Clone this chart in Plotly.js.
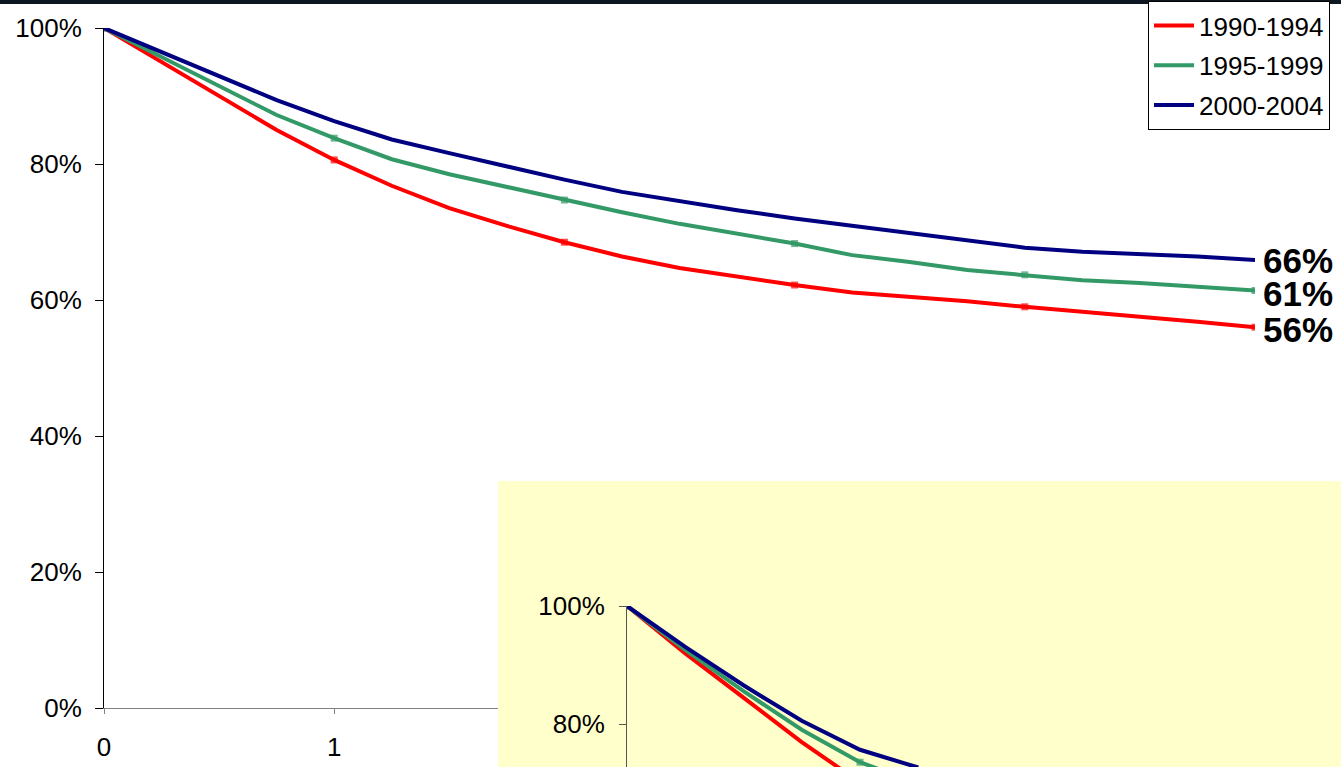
<!DOCTYPE html>
<html>
<head>
<meta charset="utf-8">
<script src="https://cdn.plot.ly/plotly-3.0.1.min.js"></script>
<style>
  html, body { margin: 0; padding: 0; background: #ffffff; }
  #chart { width: 1341px; height: 767px; }
</style>
</head>
<body>
<div id="chart"></div>
<script>
// ---- Data ----
const seriesNames = ['1990-1994', '1995-1999', '2000-2004'];
const years = [0, 0.25, 0.5, 0.75, 1, 1.25, 1.5, 1.75, 2, 2.25, 2.5, 2.75, 3, 3.25, 3.5, 3.75, 4, 4.25, 4.5, 4.75, 5];
const survival1990 = [100, 95.0, 90.0, 85.0, 80.6, 76.8, 73.5, 70.9, 68.5, 66.4, 64.7, 63.4, 62.2, 61.1, 60.5, 59.8, 59.0, 58.3, 57.5, 56.8, 56.0];
const survival1995 = [100, 95.7, 91.5, 87.2, 83.8, 80.7, 78.5, 76.6, 74.7, 72.9, 71.2, 69.7, 68.3, 66.6, 65.6, 64.4, 63.7, 62.9, 62.5, 62.0, 61.4];
const survival2000 = [100, 96.5, 93.0, 89.4, 86.3, 83.6, 81.6, 79.6, 77.7, 75.9, 74.5, 73.2, 72.0, 70.9, 69.8, 68.7, 67.7, 67.1, 66.8, 66.4, 65.9];
const endLabels = ['56%', '61%', '66%'];
const yTickVals = [0, 20, 40, 60, 80, 100];
// only the x tick labels not hidden by the yellow panel
const xTickVals = [0, 1];

// inset chart (partly visible)
const insetYears = [0, 0.25, 0.5, 0.75, 1, 1.25];
const inset1990 = [100, 92.0, 84.5, 77.0, 70.2, 65.0];
const inset1995 = [100, 92.6, 85.6, 79.1, 73.6, 70.0];
const inset2000 = [100, 93.1, 86.6, 80.6, 75.7, 72.7];
const insetTickVals = [80, 100];

// ---- Styling ----
const colors = ['#FF0000', '#339966', '#000080'];
const FONT = 'Liberation Sans, Arial, sans-serif';
const W = 1341, H = 767;

function markerSizes(xs) { return xs.map(v => Number.isInteger(v) ? 7 : 0); }
function pct(v) { return v + '%'; }

const mainSeries = [survival1990, survival1995, survival2000];
const insetSeries = [inset1990, inset1995, inset2000];

const traces = [];
mainSeries.forEach((ys, i) => {
  traces.push({
    type: 'scatter',
    x: years, y: ys,
    name: seriesNames[i],
    legendgroup: 'g' + i,
    mode: i < 2 ? 'lines+markers' : 'lines',
    line: { color: colors[i], width: 4 },
    marker: { symbol: 'square', size: markerSizes(years), color: colors[i], line: { width: 0 } },
    xaxis: 'x', yaxis: 'y',
    hoverinfo: 'skip'
  });
});
// placeholder trace for the yellow panel subplot
traces.push({ type: 'scatter', x: [], y: [], xaxis: 'x2', yaxis: 'y2', showlegend: false, hoverinfo: 'skip' });
insetSeries.forEach((ys, i) => {
  traces.push({
    type: 'scatter',
    x: insetYears, y: ys,
    name: seriesNames[i],
    showlegend: false,
    mode: i < 2 ? 'lines+markers' : 'lines',
    line: { color: colors[i], width: 4 },
    marker: { symbol: 'square', size: markerSizes(insetYears), color: colors[i], line: { width: 0 } },
    xaxis: 'x3', yaxis: 'y3',
    hoverinfo: 'skip'
  });
});

const labelShifts = [-2, -3, -1];
const annotations = mainSeries.map((ys, i) => ({
  x: years[years.length - 1], y: ys[ys.length - 1],
  xref: 'x', yref: 'y',
  text: endLabels[i],
  showarrow: false,
  xanchor: 'left', yanchor: 'middle',
  xshift: 6, yshift: labelShifts[i],
  font: { family: FONT, size: 35, color: '#000000', weight: 'bold' }
}));

const layout = {
  width: W, height: H,
  margin: { l: 0, r: 0, t: 0, b: 0, autoexpand: false },
  paper_bgcolor: '#ffffff',
  plot_bgcolor: 'rgba(0,0,0,0)',
  font: { family: FONT, size: 26, color: '#000000' },
  showlegend: true,
  legend: {
    x: 1148 / W, y: 1 - 1 / H, xanchor: 'left', yanchor: 'top',
    bgcolor: '#ffffff', bordercolor: '#000000', borderwidth: 1,
    font: { family: FONT, size: 26, color: '#000000' },
    tracegroupgap: 3,
    itemwidth: 40
  },
  xaxis: {
    domain: [104 / W, 1255 / W], range: [0, 5],
    tickvals: xTickVals, ticktext: xTickVals.map(String),
    showgrid: false, zeroline: false,
    showline: true, linecolor: '#808080', linewidth: 1,
    ticks: 'outside', ticklen: 5, tickcolor: '#808080',
    ticklabelstandoff: 11,
    anchor: 'y', fixedrange: true
  },
  yaxis: {
    domain: [(H - 708) / H, (H - 28) / H], range: [0, 100],
    tickvals: yTickVals, ticktext: yTickVals.map(pct),
    showgrid: false, zeroline: false,
    showline: true, linecolor: '#000000', linewidth: 1,
    ticks: 'outside', ticklen: 8, tickcolor: '#000000',
    ticklabelstandoff: 8,
    anchor: 'x', fixedrange: true
  },
  xaxis2: { domain: [498 / W, 1], range: [0, 1], visible: false, anchor: 'y2', fixedrange: true },
  yaxis2: { domain: [0, (H - 481) / H], range: [0, 1], visible: false, anchor: 'x2', fixedrange: true },
  xaxis3: { domain: [627 / W, 1], range: [0, (W - 627) / 233], visible: false, anchor: 'y3', fixedrange: true },
  yaxis3: {
    domain: [0, (H - 606) / H], range: [100 - (H - 606) / 5.917, 100],
    tickvals: insetTickVals, ticktext: insetTickVals.map(pct),
    showgrid: false, zeroline: false,
    showline: true, linecolor: '#555555', linewidth: 1,
    ticks: 'outside', ticklen: 7, tickcolor: '#555555',
    ticklabelstandoff: 9,
    anchor: 'x3', fixedrange: true
  },
  shapes: [
    { type: 'rect', xref: 'x2', yref: 'y2', x0: 0, x1: 1, y0: 0, y1: 1,
      fillcolor: '#FFFFCC', line: { width: 0 }, layer: 'below' },
    { type: 'rect', xref: 'paper', yref: 'paper', x0: 0, x1: 1, y0: 1 - 4 / H, y1: 1,
      fillcolor: '#0D1722', line: { width: 0 }, layer: 'above' }
  ],
  annotations: annotations
};

Plotly.newPlot('chart', traces, layout, { displayModeBar: false, staticPlot: true });
</script>
</body>
</html>
